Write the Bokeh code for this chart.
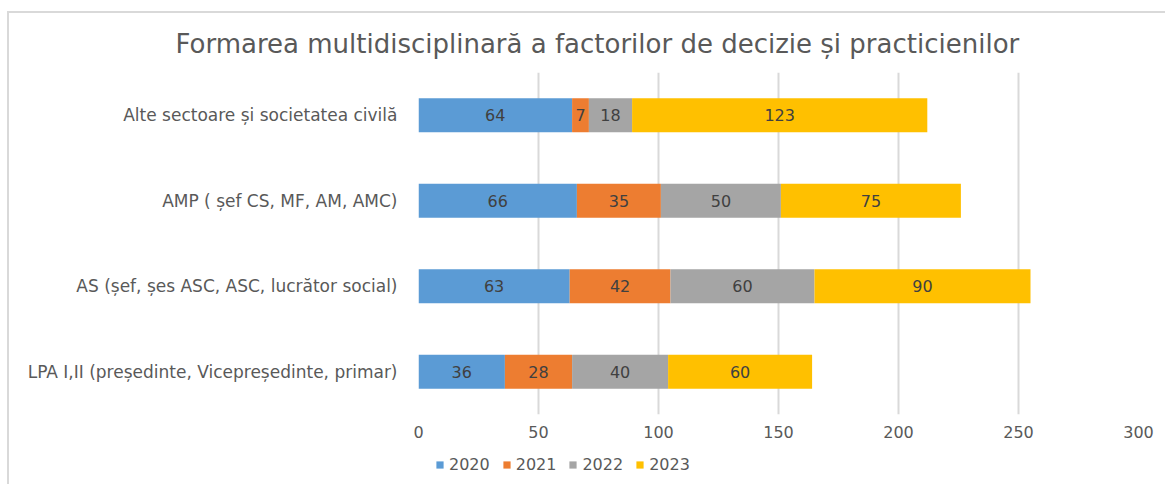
from bokeh.plotting import figure
from bokeh.models import ColumnDataSource, FixedTicker, Legend, LegendItem, Title
from bokeh.layouts import column
from bokeh.core.properties import value
from bokeh.embed import file_html
from bokeh.resources import INLINE

categories = [
    "LPA I,II (președinte, Vicepreședinte, primar)",
    "AS (șef, șes ASC, ASC, lucrător social)",
    "AMP ( șef CS, MF, AM, AMC)",
    "Alte sectoare și societatea civilă",
]
years = ["2020", "2021", "2022", "2023"]
v2020 = [36, 63, 66, 64]
v2021 = [28, 42, 35, 7]
v2022 = [40, 60, 50, 18]
v2023 = [60, 90, 75, 123]
colors = ["#5B9BD5", "#ED7D31", "#A5A5A5", "#FFC000"]
x_ticks = [0, 50, 100, 150, 200, 250, 300]
title_text = "Formarea multidisciplinară a factorilor de decizie și practicienilor"

FONT = "DejaVu Sans"
TXT = "#595959"
W = 1156

p = figure(width=W, height=433, x_range=(0, 300), y_range=(-0.5, 3.5),
           output_backend="svg", toolbar_location=None,
           min_border_left=409, min_border_right=27,
           min_border_top=59, min_border_bottom=32)
p.outline_line_color = None
p.background_fill_color = "white"

ys = list(range(len(categories)))
series = [v2020, v2021, v2022, v2023]
left = [0] * len(categories)
sources = []
for yr, vals, col in zip(years, series, colors):
    right = [l + v for l, v in zip(left, vals)]
    src = ColumnDataSource(dict(y=ys, left=left, right=right,
                                mid=[(l + r) / 2 for l, r in zip(left, right)],
                                lab=[str(v) for v in vals]))
    sources.append(src)
    p.hbar(y="y", left="left", right="right", height=0.4, source=src,
           fill_color=col, line_color=None)
    p.text(x="mid", y="y", text="lab", source=src, text_align="center",
           text_baseline="middle", text_font=value(FONT), text_font_size="16px",
           text_color="#404040")
    left = right

p.xaxis.ticker = FixedTicker(ticks=x_ticks)
p.xaxis.axis_line_color = None
p.xaxis.major_tick_line_color = None
p.xaxis.minor_tick_line_color = None
p.xaxis.major_label_standoff = 5
p.xaxis.major_label_text_font = FONT
p.xaxis.major_label_text_font_size = "16px"
p.xaxis.major_label_text_color = TXT

p.yaxis.ticker = FixedTicker(ticks=ys)
p.yaxis.major_label_overrides = {i: c for i, c in enumerate(categories)}
p.yaxis.axis_line_color = None
p.yaxis.major_tick_line_color = None
p.yaxis.minor_tick_line_color = None
p.yaxis.major_label_standoff = 15
p.yaxis.major_label_text_font = FONT
p.yaxis.major_label_text_font_size = "17px"
p.yaxis.major_label_text_color = TXT

p.xgrid.ticker = FixedTicker(ticks=x_ticks)
p.xgrid.grid_line_color = "#d9d9d9"
p.xgrid.grid_line_width = 2
p.ygrid.grid_line_color = None

p.add_layout(Title(text=title_text, align="left", offset=-243,
                   text_font=FONT, text_font_size="26px", text_font_style="normal",
                   text_line_height=1.0, text_color=TXT, standoff=27), "above")

# legend strip (frames of the column are aligned with the chart's frame)
q = figure(width=W, height=38, x_range=(0, 1), y_range=(0, 1),
           output_backend="svg", toolbar_location=None,
           x_axis_location=None, y_axis_location=None,
           min_border=0)
q.outline_line_color = None
q.xgrid.grid_line_color = None
q.ygrid.grid_line_color = None
items = []
for yr, col, src in zip(years, colors, sources):
    r = q.hbar(y="y", left="left", right="right", height=0.4, source=src,
               fill_color=col, line_color=None, visible=False)
    items.append(LegendItem(label=yr, renderers=[r]))
legend = Legend(items=items, orientation="horizontal", location=(17, 10),
                glyph_width=9, glyph_height=9, label_standoff=5, spacing=12,
                padding=0, margin=0, border_line_color=None,
                background_fill_alpha=0, inactive_fill_alpha=0,
                label_text_font=FONT, label_text_font_size="16px",
                label_text_color=TXT)
q.add_layout(legend)

layout = column(p, q, spacing=0)
layout.styles = {"border-left": "2px solid #d9d9d9", "border-top": "2px solid #d9d9d9",
                 "margin-left": "7px", "margin-top": "11px"}

open("out.html", "w").write(file_html(layout, INLINE))
